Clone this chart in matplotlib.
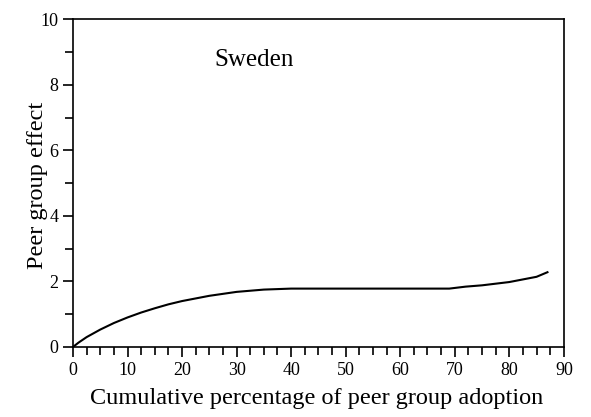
import matplotlib
matplotlib.use("Agg")
import matplotlib.pyplot as plt
from matplotlib.ticker import MultipleLocator

x_vals = [0, 1, 2.5, 5, 7.5, 10, 12.5, 15, 17.5, 20, 25, 30, 35, 40, 50, 60, 69, 72, 75, 80, 85, 87]
y_vals = [0, 0.13, 0.3, 0.53, 0.73, 0.9, 1.05, 1.18, 1.3, 1.4, 1.56, 1.68, 1.75, 1.78, 1.78, 1.78, 1.78, 1.84, 1.88, 1.98, 2.14, 2.28]
country = "Sweden"
xlabel = "Cumulative percentage of peer group adoption"
ylabel = "Peer group effect"

plt.rcParams['font.family'] = ['Liberation Serif']
fig = plt.figure(figsize=(5.91, 4.17), dpi=100)
ax = fig.add_axes([0.1235, 0.168, 0.8305, 0.786])
ax.plot(x_vals, y_vals, color='black', lw=1.5)
ax.set_xlim(0, 90)
ax.set_ylim(0, 10)
ax.xaxis.set_major_locator(MultipleLocator(10))
ax.xaxis.set_minor_locator(MultipleLocator(2.5))
ax.yaxis.set_major_locator(MultipleLocator(2))
ax.yaxis.set_minor_locator(MultipleLocator(1))
ax.tick_params(which='both', direction='out', top=False, right=False, width=1.2, labelsize=13)
ax.tick_params(which='major', length=7.5, pad=3)
ax.tick_params(which='minor', length=5.5)
for s in ax.spines.values():
    s.set_linewidth(1.2)
ax.set_xlabel(xlabel, fontsize=17.5)
ax.xaxis.set_label_coords(0.497, -0.125)
ax.set_ylabel(ylabel, fontsize=17.5)
ax.yaxis.set_label_coords(-0.051, 0.494)
ax.text(26, 8.75, country, fontsize=18, ha='left', va='center')
fig.savefig("out.png", dpi=100)
